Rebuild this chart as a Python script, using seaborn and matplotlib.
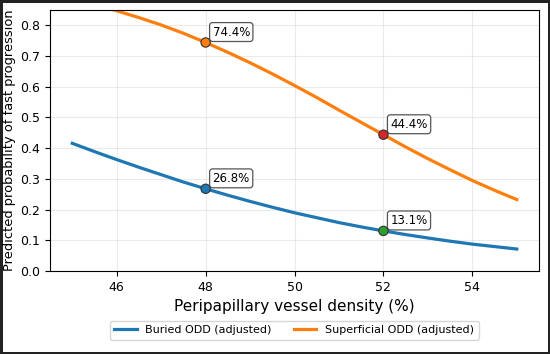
import matplotlib
matplotlib.use("Agg")
import matplotlib.pyplot as plt
import pandas as pd
import seaborn as sns

# vessel density grid (%) and predicted probabilities
density = [45, 45.5, 46, 46.5, 47, 47.5, 48, 48.5, 49, 49.5, 50,
           50.5, 51, 51.5, 52, 52.5, 53, 53.5, 54, 54.5, 55]
buried = [0.416, 0.389, 0.363, 0.338, 0.314, 0.290, 0.268, 0.247, 0.227, 0.208, 0.190,
          0.174, 0.158, 0.144, 0.131, 0.119, 0.108, 0.0975, 0.088, 0.080, 0.072]
superficial = [0.884, 0.867, 0.847, 0.825, 0.801, 0.774, 0.744, 0.712, 0.678, 0.642, 0.604,
               0.565, 0.524, 0.484, 0.444, 0.404, 0.366, 0.330, 0.295, 0.263, 0.233]

series_names = ["Buried ODD (adjusted)", "Superficial ODD (adjusted)"]
series_colors = ["#1f77b4", "#ff7f0e"]

# highlighted points
point_x = [48, 52, 48, 52]
point_y = [0.268, 0.131, 0.744, 0.444]
point_labels = ["26.8%", "13.1%", "74.4%", "44.4%"]
point_colors = ["#1f77b4", "#2ca02c", "#ff7f0e", "#d62728"]

df = pd.DataFrame({
    "density": density * 2,
    "prob": buried + superficial,
    "group": [series_names[0]] * len(density) + [series_names[1]] * len(density),
})

fig, ax = plt.subplots(figsize=(5.5, 3.54), dpi=100)
fig.subplots_adjust(left=0.091, right=0.98, top=0.972, bottom=0.234)

sns.lineplot(data=df, x="density", y="prob", hue="group", palette=series_colors,
             linewidth=2.3, ax=ax, legend=True)

pts = pd.DataFrame({"x": point_x, "y": point_y, "c": point_labels})
sns.scatterplot(data=pts, x="x", y="y", hue="c", palette=point_colors, s=45,
                edgecolor="#333333", linewidth=0.8, zorder=5, ax=ax, legend=False)

for x, y, lab in zip(point_x, point_y, point_labels):
    ax.annotate(lab, (x, y), xytext=(5, 5), textcoords="offset points", fontsize=8.5,
                bbox=dict(boxstyle="round,pad=0.25", fc="white", ec="#555555", lw=0.9))

ax.set_xlim(44.5, 55.5)
ax.set_ylim(0, 0.85)
ax.set_xticks([46, 48, 50, 52, 54])
ax.set_yticks([0.0, 0.1, 0.2, 0.3, 0.4, 0.5, 0.6, 0.7, 0.8])
ax.tick_params(labelsize=9)
ax.grid(True, alpha=0.25)
ax.set_xlabel("Peripapillary vessel density (%)", fontsize=11)
ax.set_ylabel("Predicted probability of fast progression", fontsize=9.4, labelpad=3)

handles, labels = ax.get_legend_handles_labels()
ax.get_legend().remove()
fig.legend(handles, labels, loc="lower center", bbox_to_anchor=(0.535, 0.025), ncol=2,
           fontsize=8, frameon=True)

fig.patch.set_edgecolor("#222222")
fig.patch.set_linewidth(2.5)
fig.savefig("out.png", dpi=100, edgecolor=fig.get_edgecolor())
